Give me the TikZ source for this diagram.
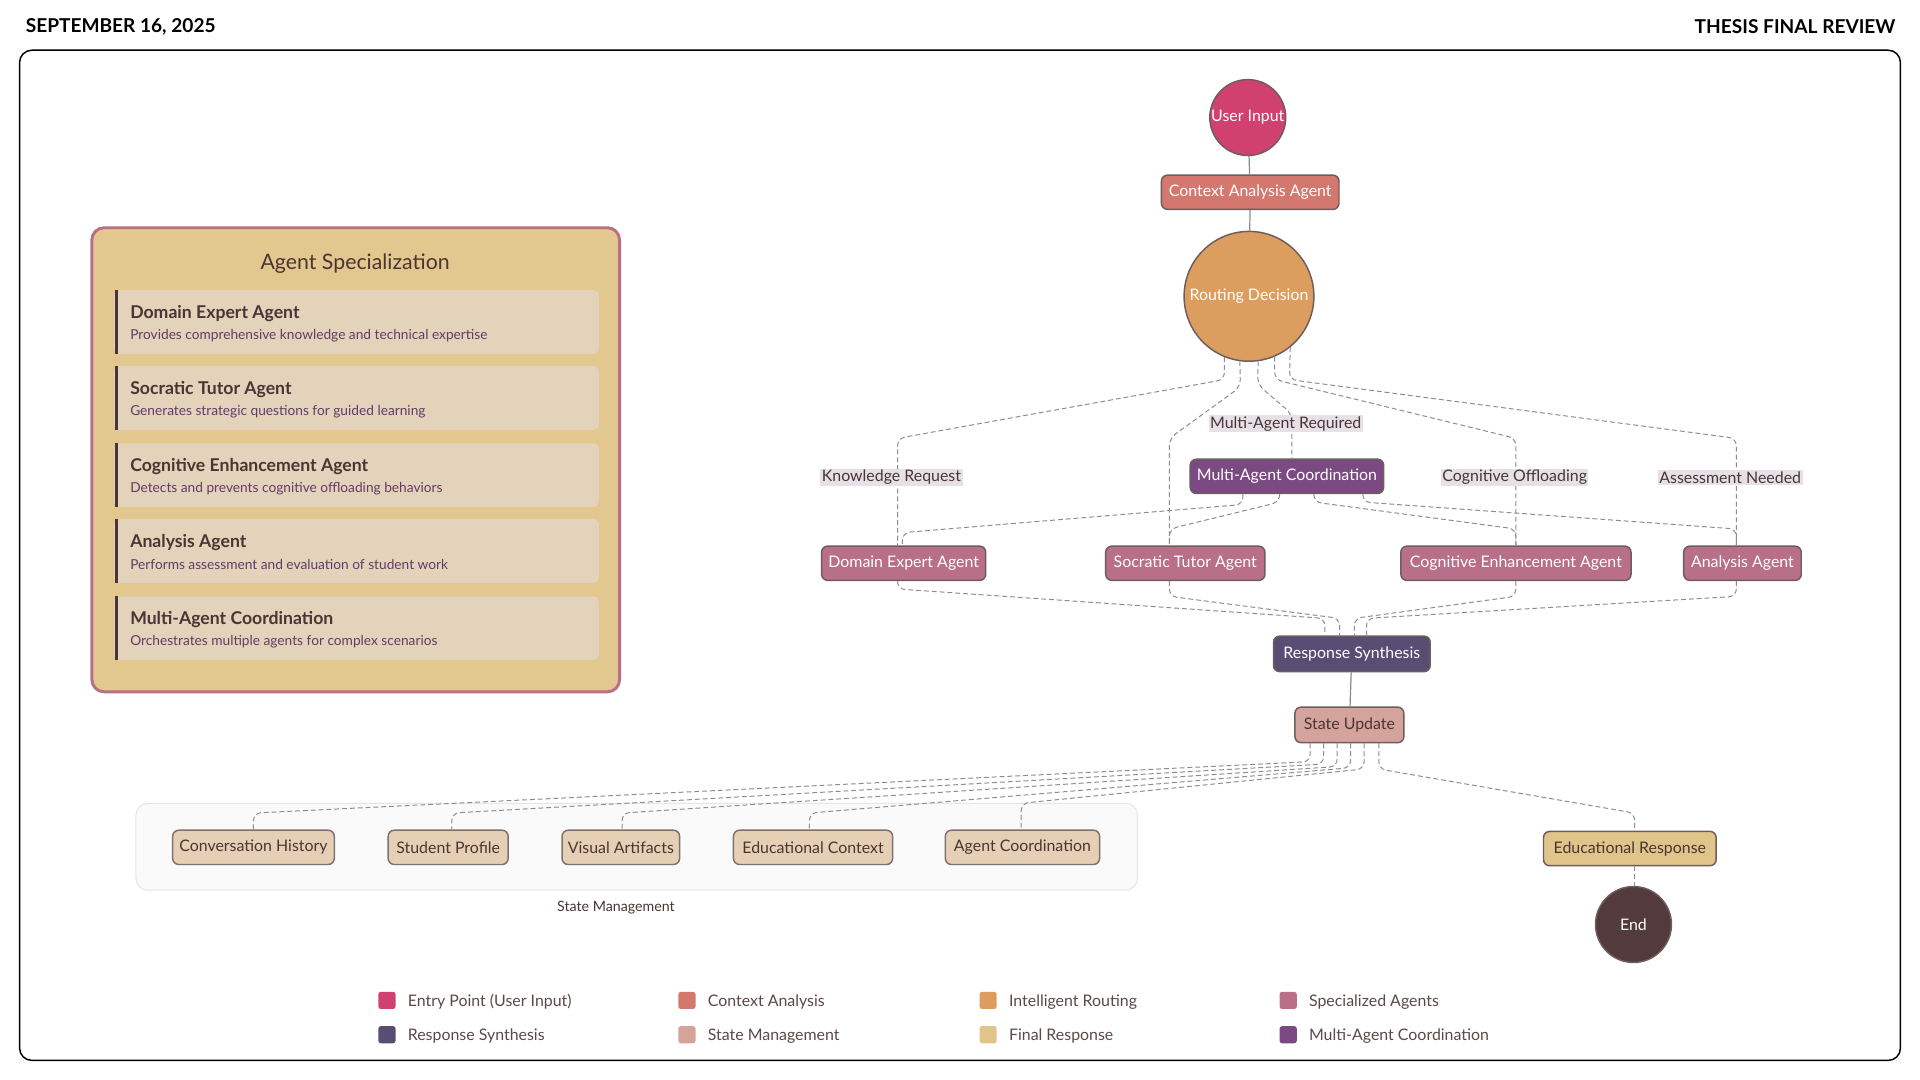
\documentclass[tikz,border=0pt]{standalone}
\usepackage{fontspec}
\setmainfont{Lato}
\usetikzlibrary{calc}
\definecolor{cUser}{HTML}{D1416F}
\definecolor{cCtx}{HTML}{D4776E}
\definecolor{cRoute}{HTML}{DC9E5E}
\definecolor{cSpec}{HTML}{B96F87}
\definecolor{cSyn}{HTML}{5A4D73}
\definecolor{cState}{HTML}{D4A39C}
\definecolor{cFinal}{HTML}{E0C48A}
\definecolor{cMulti}{HTML}{7B4A82}
\definecolor{cEnd}{HTML}{523A3D}
\definecolor{cItem}{HTML}{E6D0B5}
\definecolor{cDark}{HTML}{4A3434}
\definecolor{cPanel}{HTML}{E2C88F}
\definecolor{cCard}{HTML}{E3D3BA}
\definecolor{cLab}{HTML}{E6E1E6}
\definecolor{cEdge}{HTML}{8C8C8C}
\tikzset{
  box/.style={draw=cDark!80, line width=0.6pt, rounded corners=2.5pt, inner sep=0pt, minimum height=14pt, font=\fontsize{6.5}{8}\selectfont},
  wbox/.style={box, text=white},
  circ/.style={circle, draw=cDark!80, line width=0.6pt, inner sep=0pt, font=\fontsize{6.5}{8}\selectfont, text=white},
  lab/.style={fill=cLab, inner sep=0.6pt, text=cDark, font=\fontsize{6.5}{8}\selectfont},
  dl/.style={draw=cEdge, dashed, dash pattern=on 2pt off 1.2pt, line width=0.4pt, rounded corners=3pt},
  sl/.style={draw=cEdge, line width=0.5pt},
  item/.style={box, fill=cItem, text=cDark, draw=cDark!70},
  card/.style={fill=cCard, rounded corners=2pt},
  ctitle/.style={anchor=west, inner sep=0pt, text=cDark, font=\fontsize{7.2}{9}\selectfont\bfseries},
  cdesc/.style={anchor=west, inner sep=0pt, text=cMulti!80!black, font=\fontsize{5.6}{7}\selectfont},
  legt/.style={anchor=west, text=cDark!90, font=\fontsize{6.5}{8}\selectfont},
  legs/.style={rounded corners=1pt, minimum size=7pt, inner sep=0pt},
}
\begin{document}
\begin{tikzpicture}[x=0.5pt,y=-0.5pt]
\useasboundingbox (0,0) rectangle (1568,882);
\fill[white] (0,0) rectangle (1568,882);
% header
\node[anchor=west, font=\fontsize{7.8}{9}\selectfont\bfseries] (date) at (14,22) {SEPTEMBER 16, 2025};
\node[anchor=east, font=\fontsize{7.8}{9}\selectfont\bfseries] (ttl) at (1555,22) {THESIS FINAL REVIEW};
\draw[line width=0.6pt, rounded corners=5pt] (16,41) rectangle (1552,866);

% agent specialization panel
\draw[draw=cSpec, line width=1.2pt, fill=cPanel, rounded corners=5pt] (75,186) rectangle (506,565);
\node[text=cDark, font=\fontsize{8.7}{10}\selectfont] (pt) at (290,215) {Agent Specialization};
\foreach \yt/\t/\d [count=\i] in {237/Domain Expert Agent/Provides comprehensive knowledge and technical expertise,
  299/Socratic Tutor Agent/Generates strategic questions for guided learning,
  362/Cognitive Enhancement Agent/Detects and prevents cognitive offloading behaviors,
  424/Analysis Agent/Performs assessment and evaluation of student work,
  487/Multi-Agent Coordination/Orchestrates multiple agents for complex scenarios}{
  \fill[card] (93,\yt) rectangle (489,\yt+52);
  \draw[cDark, line width=1.2pt, rounded corners=2pt] (95.5,\yt+52) -- (95.5,\yt);
  \node[ctitle] (ct\i) at (106,\yt+19) {\t};
  \node[cdesc] (cd\i) at (106,\yt+37) {\d};
}

% state management container
\draw[draw=black!10, fill=black!2, rounded corners=5pt] (111,656) rectangle (929,727);
\node[text=cDark, font=\fontsize{5.8}{7}\selectfont] (smlab) at (503,741) {State Management};

% main nodes
\node[circ, fill=cUser, minimum size=31pt] (ui) at (1019,96) {User Input};
\node[wbox, fill=cCtx, minimum width=72.5pt] (ca) at (1021,157) {Context Analysis Agent};
\node[circ, fill=cRoute, minimum size=53pt] (rd) at (1020,242) {Routing Decision};
\node[wbox, fill=cMulti, minimum width=79pt] (mac) at (1051,389) {Multi-Agent Coordination};
\node[wbox, fill=cSpec, minimum width=67pt] (dea) at (738,460) {Domain Expert Agent};
\node[wbox, fill=cSpec, minimum width=65pt] (sta) at (968,460) {Socratic Tutor Agent};
\node[wbox, fill=cSpec, minimum width=94pt] (cea) at (1238,460) {Cognitive Enhancement Agent};
\node[wbox, fill=cSpec, minimum width=48pt] (aa) at (1423,460) {Analysis Agent};
\node[wbox, fill=cSyn, minimum width=64pt, minimum height=14.5pt] (rs) at (1104,534) {Response Synthesis};
\node[box, fill=cState, text=cDark, minimum width=44.5pt, minimum height=14.5pt] (su) at (1102,592) {State Update};
\node[item, minimum width=66pt] (s1) at (207,692) {Conversation History};
\node[item, minimum width=49pt] (s2) at (366,692) {Student Profile};
\node[item, minimum width=48pt] (s3) at (507,692) {Visual Artifacts};
\node[item, minimum width=65pt] (s4) at (664,692) {Educational Context};
\node[item, minimum width=63pt] (s5) at (835,692) {Agent Coordination};
\node[box, fill=cFinal, text=cDark, minimum width=70.5pt] (er) at (1331,693) {Educational Response};
\node[circ, fill=cEnd, minimum size=31pt] (end) at (1334,755) {End};

% solid edges
\draw[sl] (ui) -- (ca);
\draw[sl] (ca) -- (rd);
\draw[sl] (rs) -- (su);

% routing -> branches
\draw[dl] (rd.248) -- (1000,310) -- (733,358) -- (733,445) coordinate (deIn);
\draw[dl] (rd.262) -- (1013,316) -- (955,358) -- (sta.north -| 955,0);
\draw[dl] (rd.278) -- (1027,314) -- (1055,338) -- (mac.north -| 1055,0);
\draw[dl] (rd.293) -- (1041,310) -- (1238,358) -- (cea.north -| 1238,0);
\draw[dl] (rd.309) -- (1053,310) -- (1418,358) -- (aa.north -| 1418,0);
\draw[dl] (deIn) -- (dea.north -| 733,0);
\node[lab] (l1) at (728,390) {Knowledge Request};
\node[lab] (l2) at (1050,346) {Multi-Agent Required};
\node[lab] (l3) at (1237,390) {Cognitive Offloading};
\node[lab] (l4) at (1413,390) {Assessment Needed};

% MAC -> agents
\draw[dl] (mac.south -| 1015,0) -- (1015,412) -- (737,435) -- (dea.north -| 737,0);
\draw[dl] (mac.south -| 1045,0) -- (1045,410) -- (955,432) -- (sta.north -| 955,0);
\draw[dl] (mac.south -| 1073,0) -- (1073,410) -- (1238,432) -- (cea.north -| 1238,0);
\draw[dl] (mac.south -| 1113,0) -- (1113,410) -- (1418,432) -- (aa.north -| 1418,0);

% agents -> synthesis
\draw[dl] (dea.south -| 733,0) -- (733,481) -- (1082,505) -- (rs.north -| 1082,0);
\draw[dl] (sta.south -| 955,0) -- (955,487) -- (1094,505) -- (rs.north -| 1094,0);
\draw[dl] (cea.south -| 1238,0) -- (1238,487) -- (1106,505) -- (rs.north -| 1106,0);
\draw[dl] (aa.south -| 1418,0) -- (1418,487) -- (1116,505) -- (rs.north -| 1116,0);

% state update -> state items
\draw[dl] (su.south -| 1070,0) -- (1070,622) -- (207,664) -- (s1.north -| 207,0);
\draw[dl] (su.south -| 1081,0) -- (1081,624) -- (369,664) -- (s2.north -| 369,0);
\draw[dl] (su.south -| 1092,0) -- (1092,626) -- (508,664) -- (s3.north -| 508,0);
\draw[dl] (su.south -| 1103,0) -- (1103,627) -- (661,664) -- (s4.north -| 661,0);
\draw[dl] (su.south -| 1114,0) -- (1114,628) -- (834,656) -- (s5.north -| 834,0);
\draw[dl] (su.south -| 1126,0) -- (1126,628) -- (1335,664) -- (er.north -| 1335,0);
\draw[dl] (er.south -| 1335,0) -- (end.north -| 1335,0);

% legend
\foreach \c/\t/\x/\y [count=\i] in {cUser/Entry Point (User Input)/316/817, cCtx/Context Analysis/561/817, cRoute/Intelligent Routing/807/817, cSpec/Specialized Agents/1052/817,
  cSyn/Response Synthesis/316/845, cState/State Management/561/845, cFinal/Final Response/807/845, cMulti/Multi-Agent Coordination/1052/845}{
  \node[legs, fill=\c] (lg\i) at (\x,\y) {};
  \node[legt] (lt\i) at (\x+10,\y+1) {\t};
}
\end{tikzpicture}
\end{document}
